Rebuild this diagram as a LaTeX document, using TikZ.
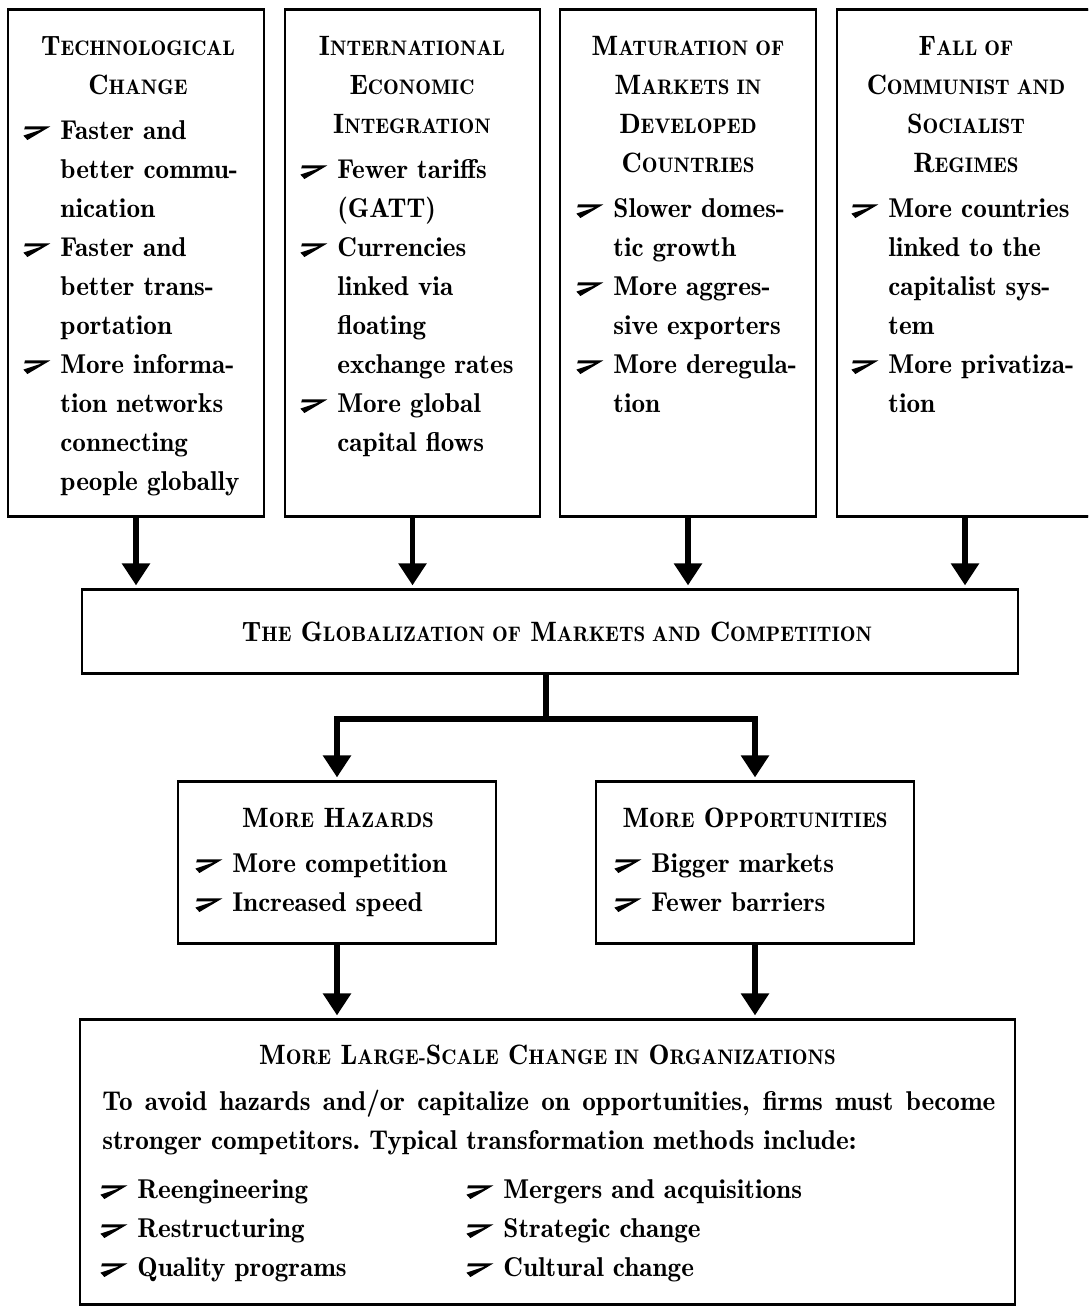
\documentclass[tikz,border=0pt]{standalone}
\usepackage{fontspec}
\setmainfont{lmromandemi10-regular.otf}
\newfontfamily\hdfont{lmromandemi10-regular.otf}
\usetikzlibrary{arrows.meta}
\newcommand\SC[2]{{\fontsize{14}{19.5}\selectfont #1}{\fontsize{10.5}{19.5}\selectfont #2}}
\newcommand\bul{\tikz[baseline=0pt,x=1pt,y=1pt]\fill[black] (0,1.9) -- (9.3,5.0) -- (0.4,5.0) -- (0.8,6.5) -- (13.5,6.5) -- (2.0,-0.3) -- cycle;}
\newcommand\bitem{\strut\makebox[18.5pt][l]{\bul}}
\newcommand\bcont{\hspace*{18.5pt}}
\begin{document}
\begin{tikzpicture}[x=0.5pt,y=-0.5pt,
  box/.style={draw, line width=0.6pt, inner sep=0pt},
  hd/.style={anchor=north, align=center, inner sep=0pt, font=\hdfont\fontsize{14}{19.5}\selectfont},
  bd/.style={anchor=north west, align=left, inner sep=0pt, font=\fontsize{13.6}{19.5}\selectfont},
  arr/.style={line width=2.8pt, -{Triangle[width=13.5pt,length=11pt]}, shorten >=2pt}]
\useasboundingbox (0,0) rectangle (1088,1306);
\clip (0,0) rectangle (1088,1306);
% boxes
\node[box, minimum width=128pt, minimum height=253pt] (b1) at (136,263) {};
\node[box, minimum width=127.5pt, minimum height=253pt] (b2) at (412.5,263) {};
\node[box, minimum width=128pt, minimum height=253pt] (b3) at (688,263) {};
\node[box, minimum width=128pt, minimum height=253pt] (b4) at (965,263) {};
\node[box, minimum width=468pt, minimum height=41.5pt] (glob) at (550,631.5) {};
\node[box, minimum width=159pt, minimum height=80.5pt] (haz) at (337,862.5) {};
\node[box, minimum width=159pt, minimum height=80.5pt] (opp) at (755,862.5) {};
\node[box, minimum width=467.5pt, minimum height=142pt] (res) at (547.5,1162) {};
\foreach \n in {b1,b2,b3,b4,glob,haz,opp,res}
  \draw[line width=1.3pt] (\n.north west) -- (\n.north east) (\n.south west) -- (\n.south east);
% box 1
\node[hd] (h1) at (138,27.7) {\strut\SC{T}{ECHNOLOGICAL}\\\SC{C}{HANGE}};
\node[bd] (t1) at (23,111.7) {\bitem Faster and\\\bcont better commu-\\\bcont nication\\
  \bitem Faster and\\\bcont better trans-\\\bcont portation\\
  \bitem More informa-\\\bcont tion networks\\\bcont connecting\\\bcont people globally};
% box 2
\node[hd] (h2) at (412,27.7) {\strut\SC{I}{NTERNATIONAL}\\\SC{E}{CONOMIC}\\\SC{I}{NTEGRATION}};
\node[bd] (t2) at (300,150.7) {\bitem Fewer tariffs\\\bcont (GATT)\\
  \bitem Currencies\\\bcont linked via\\\bcont floating\\\bcont exchange rates\\
  \bitem More global\\\bcont capital flows};
% box 3
\node[hd] (h3) at (688,27.7) {\strut\SC{M}{ATURATION OF}\\\SC{M}{ARKETS IN}\\\SC{D}{EVELOPED}\\\SC{C}{OUNTRIES}};
\node[bd] (t3) at (576,189.7) {\bitem Slower domes-\\\bcont tic growth\\
  \bitem More aggres-\\\bcont sive exporters\\
  \bitem More deregula-\\\bcont tion};
% box 4
\node[hd] (h4) at (966,27.7) {\strut\SC{F}{ALL OF}\\\SC{C}{OMMUNIST AND}\\\SC{S}{OCIALIST}\\\SC{R}{EGIMES}};
\node[bd] (t4) at (851,189.7) {\bitem More countries\\\bcont linked to the\\\bcont capitalist sys-\\\bcont tem\\
  \bitem More privatiza-\\\bcont tion};
% globalization
\node[hd] (hg) at (557,613.7) {\strut\SC{T}{HE} \SC{G}{LOBALIZATION OF} \SC{M}{ARKETS AND} \SC{C}{OMPETITION}};
% hazards / opportunities
\node[hd] (hh) at (338,799.7) {\strut\SC{M}{ORE} \SC{H}{AZARDS}};
\node[bd] (th) at (195,844.7) {\bitem More competition\\\bitem Increased speed};
\node[hd] (ho) at (755,799.7) {\strut\SC{M}{ORE} \SC{O}{PPORTUNITIES}};
\node[bd] (to) at (614,844.7) {\bitem Bigger markets\\\bitem Fewer barriers};
% result
\node[hd] (hr) at (547.5,1036.7) {\strut\SC{M}{ORE} \SC{L}{ARGE-}\SC{S}{CALE} \SC{C}{HANGE IN} \SC{O}{RGANIZATIONS}};
\node[bd] (tr) at (102,1082.7) {\strut\makebox[446.5pt][s]{To avoid hazards and/or capitalize on opportunities, firms must become}\\stronger competitors.\ Typical transformation methods include:};
\node[bd] (ra) at (100,1170.7) {\bitem Reengineering\\\bitem Restructuring\\\bitem Quality programs};
\node[bd] (rb) at (466,1170.7) {\bitem Mergers and acquisitions\\\bitem Strategic change\\\bitem Cultural change};
% connectors
\foreach \n in {b1,b2,b3,b4}
  \draw[arr] (\n.south) -- (\n.south |- glob.north);
\coordinate (j) at (546,719);
\draw[line width=2.8pt] (glob.south -| j) -- (j);
\draw[arr] (j) -| (haz.north);
\draw[arr] (j) -| (opp.north);
\draw[arr] (haz.south) -- (haz.south |- res.north);
\draw[arr] (opp.south) -- (opp.south |- res.north);
\end{tikzpicture}
\end{document}
